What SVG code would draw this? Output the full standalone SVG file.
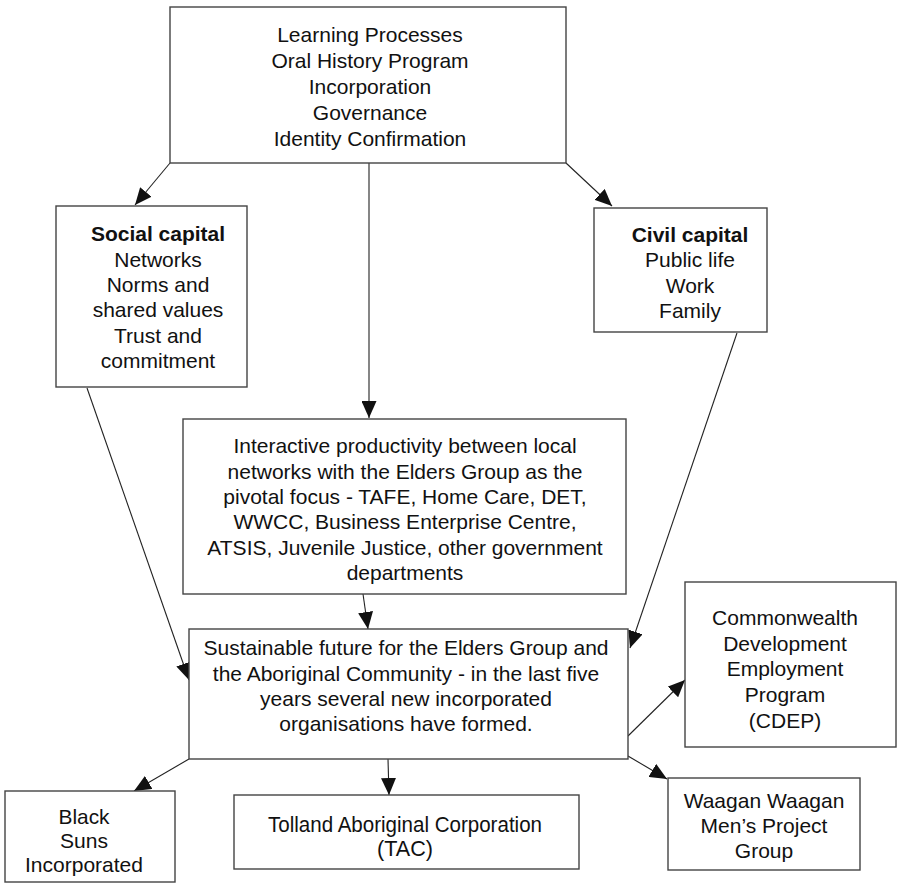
<svg xmlns="http://www.w3.org/2000/svg" width="901" height="884" viewBox="0 0 901 884">
<style>
.box{fill:#fff;stroke:#444;stroke-width:1.4}
.t{font-family:"Liberation Sans",Arial,sans-serif;font-size:21px;fill:#111;text-anchor:middle}
.b{font-weight:bold}
.n{font-size:22px}
.c{stroke:#222;stroke-width:1.1;fill:none;marker-end:url(#ah)}
</style>
<defs>
<marker id="ah" viewBox="0 0 17 15" refX="17" refY="7.5" markerWidth="17" markerHeight="15" markerUnits="userSpaceOnUse" orient="auto">
<path d="M0,0 L17,7.5 L0,15 Z" fill="#111"/>
</marker>
</defs>
<rect width="901" height="884" fill="#fff"/>
<g id="connectors">
<line class="c" x1="170" y1="163" x2="135" y2="205"/>
<line class="c" x1="566" y1="163" x2="612" y2="206"/>
<line class="c" x1="369" y1="163" x2="369" y2="418"/>
<line class="c" x1="87" y1="388" x2="189" y2="680"/>
<line class="c" x1="737" y1="333" x2="630" y2="648"/>
<line class="c" x1="363" y1="594" x2="368" y2="629"/>
<line class="c" x1="628" y1="736" x2="685" y2="680"/>
<line class="c" x1="628" y1="756" x2="667" y2="779"/>
<line class="c" x1="388" y1="759" x2="389" y2="795"/>
<line class="c" x1="189" y1="759" x2="134" y2="791"/>
</g>
<g id="top">
<rect class="box" x="170" y="7" width="396" height="156"/>
<text class="t" x="370" y="42">Learning Processes</text>
<text class="t" x="370" y="68">Oral History Program</text>
<text class="t" x="370" y="94">Incorporation</text>
<text class="t" x="370" y="120">Governance</text>
<text class="t" x="370" y="146">Identity Confirmation</text>
</g>
<g id="social">
<rect class="box" x="56" y="206" width="191" height="181"/>
<text class="t b" x="158" y="241">Social capital</text>
<text class="t" x="158" y="267">Networks</text>
<text class="t" x="158" y="292">Norms and</text>
<text class="t" x="158" y="317">shared values</text>
<text class="t" x="158" y="343">Trust and</text>
<text class="t" x="158" y="368">commitment</text>
</g>
<g id="civil">
<rect class="box" x="594" y="208" width="173" height="124"/>
<text class="t b" x="690" y="242">Civil capital</text>
<text class="t" x="690" y="267">Public life</text>
<text class="t" x="690" y="293">Work</text>
<text class="t" x="690" y="318">Family</text>
</g>
<g id="interactive">
<rect class="box" x="183" y="419" width="443" height="175"/>
<text class="t" x="405" y="453">Interactive productivity between local</text>
<text class="t" x="405" y="479">networks with the Elders Group as the</text>
<text class="t" x="405" y="504">pivotal focus - TAFE, Home Care, DET,</text>
<text class="t" x="405" y="529">WWCC, Business Enterprise Centre,</text>
<text class="t" x="405" y="555">ATSIS, Juvenile Justice, other government</text>
<text class="t" x="405" y="580">departments</text>
</g>
<g id="sustainable">
<rect class="box" x="189" y="629" width="439" height="130"/>
<text class="t" x="406" y="655">Sustainable future for the Elders Group and</text>
<text class="t" x="406" y="681">the Aboriginal Community - in the last five</text>
<text class="t" x="406" y="706">years several new incorporated</text>
<text class="t" x="406" y="731">organisations have formed.</text>
</g>
<g id="cdep">
<rect class="box" x="685" y="582" width="211" height="165"/>
<text class="t" x="785" y="625">Commonwealth</text>
<text class="t" x="785" y="651">Development</text>
<text class="t" x="785" y="676">Employment</text>
<text class="t" x="785" y="702">Program</text>
<text class="t" x="785" y="728">(CDEP)</text>
</g>
<g id="waagan">
<rect class="box" x="668" y="778" width="192" height="92"/>
<text class="t" x="764" y="808">Waagan Waagan</text>
<text class="t" x="764" y="833">Men’s Project</text>
<text class="t" x="764" y="858">Group</text>
</g>
<g id="blacksuns">
<rect class="box" x="5" y="791" width="170" height="91"/>
<text class="t" x="84" y="824" textLength="51" lengthAdjust="spacingAndGlyphs">Black</text>
<text class="t" x="84" y="848" textLength="48" lengthAdjust="spacingAndGlyphs">Suns</text>
<text class="t" x="84" y="872" textLength="118" lengthAdjust="spacingAndGlyphs">Incorporated</text>
</g>
<g id="tolland">
<rect class="box" x="234" y="795" width="345" height="74"/>
<text class="t n" x="405" y="832" textLength="274" lengthAdjust="spacingAndGlyphs">Tolland Aboriginal Corporation</text>
<text class="t n" x="405" y="856" textLength="56" lengthAdjust="spacingAndGlyphs">(TAC)</text>
</g>
</svg>
